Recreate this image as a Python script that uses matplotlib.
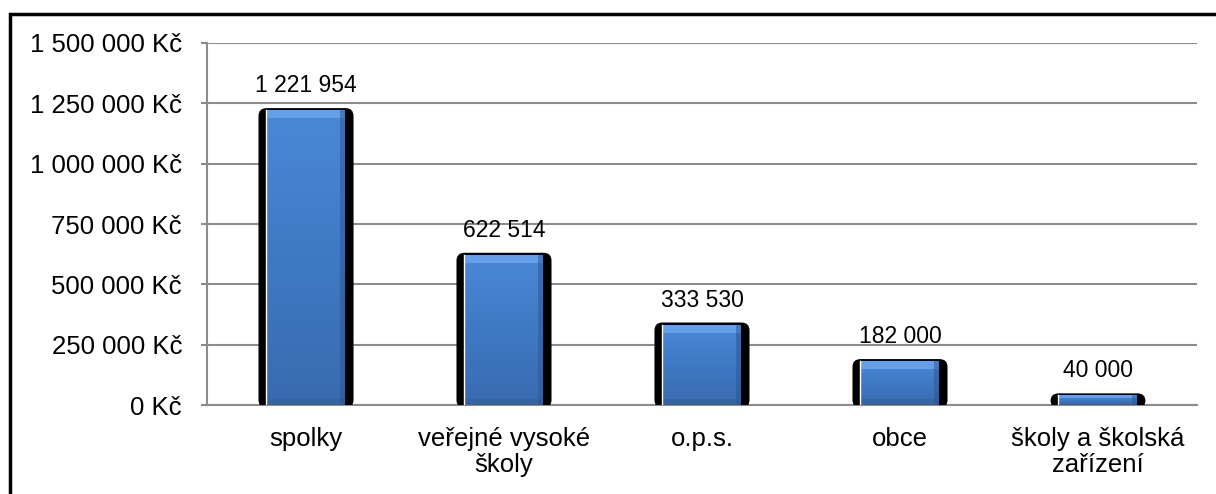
import numpy as np
import matplotlib.pyplot as plt
from matplotlib.patches import Rectangle, FancyBboxPatch
from matplotlib.colors import LinearSegmentedColormap

categories = ['spolky', 'veřejné vysoké\nškoly', 'o.p.s.', 'obce', 'školy a školská\nzařízení']
values = [1221954, 622514, 333530, 182000, 40000]
yticks = [0, 250000, 500000, 750000, 1000000, 1250000, 1500000]

plt.rcParams['font.family'] = ['Liberation Sans', 'DejaVu Sans']

W, H = 1216, 494
fig = plt.figure(figsize=(W / 100, H / 100), dpi=100)
ax = fig.add_axes([207 / W, 1 - 405 / H, (1197 - 207) / W, (405 - 43) / H])

ymax = 1500000
ax.set_xlim(-0.5, len(categories) - 0.5)
ax.set_ylim(0, ymax)

# pixel -> data conversions
px_x = len(categories) / (1197 - 207)
px_y = ymax / (405 - 43)

grad = LinearSegmentedColormap.from_list('blu', ['#3a6bb0', '#3f79c4', '#4a88d6'])
shadow_w = 0.48
bar_w = 0.39

for i, v in enumerate(values):
    # black shadow with rounded top
    r = 8 * px_x
    sh = FancyBboxPatch((i - shadow_w / 2, -3 * px_y), shadow_w, v + 5 * px_y,
                        boxstyle=f'round,pad=0,rounding_size={r}',
                        mutation_aspect=px_y / px_x,
                        fc='black', ec='none', zorder=3)
    ax.add_patch(sh)
    # blue body with vertical gradient
    x0, x1 = i - bar_w / 2, i + bar_w / 2
    clip = Rectangle((x0, 0), bar_w, v, transform=ax.transData)
    g = np.linspace(0, 1, 64).reshape(-1, 1)
    im = ax.imshow(g, cmap=grad, extent=(x0, x1, 0, v), origin='lower',
                   aspect='auto', zorder=4, interpolation='bicubic')
    im.set_clip_path(clip)
    # bevel highlights
    bev = min(8 * px_y, v * 0.25)
    ax.add_patch(Rectangle((x0, v - bev), bar_w, bev, fc='#6ea6ec', ec='none', zorder=5, alpha=0.8))
    ax.add_patch(Rectangle((x0, 0), bar_w, bev * 0.8, fc='#2f5a94', ec='none', zorder=5, alpha=0.4))
    ax.add_patch(Rectangle((x1 - 5 * px_x, 0), 5 * px_x, v, fc='#2b568f', ec='none', zorder=5, alpha=0.5))
    ax.plot([x0 - 1 * px_x, x0 - 1 * px_x], [0, v], color='white', lw=1, zorder=5)
    ax.text(i, v + 13 * px_y, f'{v:,}'.replace(',', ' '), ha='center', va='bottom',
            fontsize=16.5, zorder=6)

ax.set_yticks(yticks)
ax.set_yticklabels([f'{t:,} Kč'.replace(',', ' ') for t in yticks], fontsize=18.5)
ax.set_xticks(range(len(categories)))
ax.set_xticklabels(categories, fontsize=18.5)
for lbl in ax.get_xticklabels():
    lbl.set_multialignment('center')
    lbl.set_linespacing(1.1)
ax.tick_params(axis='x', length=0, pad=16)
ax.tick_params(axis='y', length=4, width=1.5, color='#8c8c8c', pad=14)

ax.yaxis.grid(True, color='#8c8c8c', lw=1.5)
ax.set_axisbelow(True)
for s in ['top', 'right']:
    ax.spines[s].set_visible(False)
for s in ['left', 'bottom']:
    ax.spines[s].set_color('#8c8c8c')
    ax.spines[s].set_linewidth(1.5)

# outer frame, cut off at right and bottom like the original
fig.patches.append(Rectangle((10 / W, -0.05), 1.2, (H - 14) / H + 0.05,
                             transform=fig.transFigure, fill=False,
                             ec='black', lw=2.5))

fig.savefig('out.png', dpi=100)
